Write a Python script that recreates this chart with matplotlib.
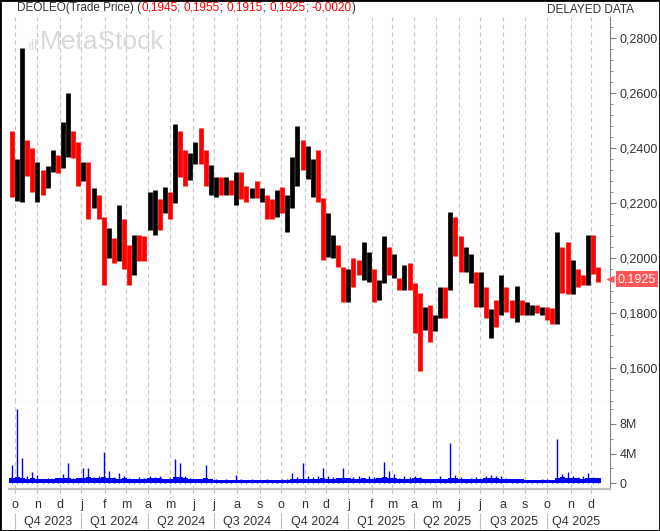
import numpy as np
import pandas as pd
import matplotlib
matplotlib.use("Agg")
import matplotlib.pyplot as plt
from matplotlib.patches import Rectangle
from matplotlib.ticker import FuncFormatter, MultipleLocator, FixedLocator

plt.rcParams["font.family"] = ["Liberation Sans", "DejaVu Sans"]

# ---- data (weekly high/low, colour = up/down week) ----
FIRST_WEEK = "2023-09-25"   # Monday of first bar
AXIS_ORIGIN = "2023-10-02"  # first month gridline
LAST_QUOTE = [0.1945, 0.1955, 0.1915, 0.1925, -0.0020]  # O, H, L, C, change

week_high = [
    0.2465, 0.2360, 0.2765, 0.2430, 0.2400, 0.2350, 0.2320, 0.2335, 0.2395, 0.2375,
    0.2495, 0.2600, 0.2465, 0.2425, 0.2350, 0.2350, 0.2255, 0.2230, 0.2150, 0.2110,
    0.2075, 0.2195, 0.2145, 0.2050, 0.2085, 0.2085, 0.2080, 0.2240, 0.2250, 0.2215,
    0.2260, 0.2240, 0.2490, 0.2465, 0.2395, 0.2385, 0.2425, 0.2475, 0.2395, 0.2340,
    0.2295, 0.2295, 0.2295, 0.2285, 0.2315, 0.2315, 0.2265, 0.2255, 0.2280, 0.2255,
    0.2230, 0.2215, 0.2250, 0.2260, 0.2230, 0.2370, 0.2480, 0.2430, 0.2410, 0.2360,
    0.2395, 0.2220, 0.2165, 0.2085, 0.2050, 0.1970, 0.1960, 0.2000, 0.1995, 0.2060,
    0.2025, 0.1960, 0.1920, 0.2080, 0.2040, 0.2015, 0.1930, 0.1975, 0.1985, 0.1910,
    0.1875, 0.1825, 0.1830, 0.1795, 0.1895, 0.1895, 0.2170, 0.2150, 0.2080, 0.2040,
    0.2015, 0.1950, 0.1950, 0.1895, 0.1815, 0.1850, 0.1940, 0.1895, 0.1850, 0.1900,
    0.1850, 0.1840, 0.1830, 0.1830, 0.1825, 0.1825, 0.1820, 0.2095, 0.2040, 0.2060,
    0.1995, 0.1960, 0.1940, 0.2085, 0.2085, 0.1970,
]
week_low = [
    0.2225, 0.2210, 0.2205, 0.2300, 0.2240, 0.2205, 0.2230, 0.2255, 0.2315, 0.2310,
    0.2330, 0.2370, 0.2365, 0.2265, 0.2280, 0.2145, 0.2185, 0.2145, 0.1905, 0.2000,
    0.1985, 0.1990, 0.1960, 0.1905, 0.1940, 0.1990, 0.1990, 0.2105, 0.2085, 0.2105,
    0.2165, 0.2145, 0.2200, 0.2295, 0.2265, 0.2285, 0.2345, 0.2345, 0.2265, 0.2230,
    0.2225, 0.2230, 0.2230, 0.2230, 0.2195, 0.2215, 0.2205, 0.2220, 0.2220, 0.2205,
    0.2145, 0.2145, 0.2150, 0.2165, 0.2095, 0.2185, 0.2265, 0.2320, 0.2290, 0.2225,
    0.2205, 0.1995, 0.2005, 0.2000, 0.1970, 0.1840, 0.1840, 0.1895, 0.1940, 0.1920,
    0.1915, 0.1840, 0.1850, 0.1910, 0.1940, 0.1930, 0.1885, 0.1885, 0.1885, 0.1730,
    0.1590, 0.1740, 0.1695, 0.1735, 0.1785, 0.1785, 0.1885, 0.2010, 0.1950, 0.1950,
    0.1910, 0.1825, 0.1825, 0.1785, 0.1710, 0.1750, 0.1795, 0.1805, 0.1785, 0.1770,
    0.1795, 0.1795, 0.1795, 0.1800, 0.1795, 0.1775, 0.1760, 0.1760, 0.1875, 0.1870,
    0.1870, 0.1895, 0.1905, 0.1905, 0.1945, 0.1915,
]
week_color = (
    "rkkrrkrkkr" "kkrrkrkrrk" "rkrrkrrkkr" "krkrrkkrrk" "krkrkrrkrk"
    "rrkrkkkrkk" "rrkkrrkrrk" "krkkrkrkrr" "rkrkkrkrrk" "krkrkrkrrk"
    "rkkrkrrkrr" "krrkrr"
)
# volume in millions: typical daily level and the peak day of each week
vol_base = [
    0.65, 0.8, 0.7, 0.6, 0.65, 0.6, 0.55, 0.6, 0.6, 0.65, 0.7,
    0.7, 0.6, 0.65, 0.7, 0.75, 0.7, 0.65, 0.8, 0.7, 0.65,
    0.6, 0.65, 0.6, 0.55, 0.6, 0.6, 0.65, 0.7, 0.65, 0.6,
    0.6, 0.8, 0.8, 0.65, 0.6, 0.6, 0.55, 0.65, 0.55, 0.45,
    0.4, 0.45, 0.4, 0.45, 0.4, 0.35, 0.4, 0.4, 0.35, 0.4,
    0.4, 0.35, 0.4, 0.45, 0.5, 0.55, 0.6, 0.55, 0.55, 0.6,
    0.65, 0.6, 0.6, 0.65, 0.7, 0.65, 0.6, 0.6, 0.65, 0.6, 0.6, 0.65, 0.8, 0.7, 0.65,
    0.55, 0.6, 0.6, 0.65, 0.65, 0.55, 0.5, 0.55, 0.6, 0.55, 0.7, 0.65, 0.6, 0.55, 0.55,
    0.6, 0.6, 0.65, 0.7, 0.65, 0.6, 0.55, 0.55, 0.5, 0.5,
    0.4, 0.4, 0.45, 0.4, 0.4, 0.45, 0.7,
    0.8, 0.7, 0.65, 0.65, 0.6, 0.7, 0.65, 0.65,
]
vol_peak = [
    2.4, 10.0, 3.4, 0.9, 1.5, 1.1, 0.6, 0.7, 0.6, 0.7,
    1.2, 2.7, 0.7, 0.6, 2.0, 2.1, 0.8, 0.9, 4.2, 1.6,
    0.8, 1.3, 0.9, 0.7, 0.6, 0.8, 0.7, 0.9, 0.8, 0.9,
    0.6, 0.7, 3.2, 2.7, 0.9, 0.7, 0.6, 0.6, 2.4, 0.6,
    0.5, 0.4, 0.5, 0.4, 1.1, 0.5, 0.4, 0.5, 0.4, 0.4,
    0.5, 0.4, 0.4, 0.5, 0.5, 1.3, 0.8, 2.7, 0.9, 0.8,
    1.0, 2.1, 0.9, 0.8, 0.7, 2.0, 0.7, 0.8, 0.9, 0.7,
    0.9, 0.8, 0.7, 2.8, 1.6, 1.2, 0.7, 0.9, 0.8, 1.0,
    0.8, 0.6, 0.5, 0.6, 0.9, 0.6, 5.4, 1.1, 0.8, 0.6,
    0.7, 0.8, 0.6, 0.9, 1.1, 1.0, 0.9, 0.7, 0.6, 0.5,
    0.5, 0.4, 0.4, 0.4, 0.5, 0.5, 0.4, 6.0, 1.2, 1.5,
    0.9, 0.8, 0.9, 1.4, 0.8, 0.7,
]
price_ticks = [0.16, 0.18, 0.20, 0.22, 0.24, 0.26, 0.28]
vol_ticks = [0, 4, 8]

# ---- positions on a trading-day axis ----
mondays = pd.date_range(FIRST_WEEK, periods=len(week_high), freq="7D")
bar_x = np.busday_count(AXIS_ORIGIN, mondays.values.astype("datetime64[D]")) + 2

month_starts = pd.date_range("2023-10-01", "2025-12-01", freq="MS")
month_bdays = np.busday_offset(month_starts.values.astype("datetime64[D]"), 0, roll="forward")
month_x = np.busday_count(AXIS_ORIGIN, month_bdays)

W, H = 660, 531
fig = plt.figure(figsize=(W / 100, H / 100), dpi=100)


def px_box(x0, y0, x1, y1):
    return [x0 / W, 1 - y1 / H, (x1 - x0) / W, (y1 - y0) / H]


ax = fig.add_axes(px_box(9, 17, 610, 402))
axv = fig.add_axes(px_box(9, 402, 610, 489), sharex=ax)
axl = fig.add_axes(px_box(9, 489, 610, 531), sharex=ax)

GRID = dict(color="#c8c8c8", lw=0.8, ls=(0, (4, 3)))
TXT = "#333333"
AXC = "#808080"
FS = 9

# price bars
colors = ["#ff0000" if c == "r" else "#000000" for c in week_color]
ax.vlines(bar_x, week_low, week_high, colors=colors, linewidth=3.4, zorder=3)
for xm in month_x:
    ax.axvline(xm, zorder=1, **GRID)
    axv.axvline(xm, zorder=1, **GRID)
axl.vlines(month_x, 0, 9, **GRID)

ax.set_xlim(-5.9, 583.6)
ax.set_ylim(0.1478, 0.2878)

# volume
axv.bar(bar_x, vol_base, width=5.0, color="#0000ff", linewidth=0, zorder=2)
axv.vlines(bar_x, 0, vol_peak, colors="#0000ff", linewidth=1.0, zorder=3)
axv.set_ylim(-0.81, 10.98)

for a in (ax, axv):
    for s in ("left", "top"):
        a.spines[s].set_visible(False)
    a.spines["right"].set_color(AXC)
    a.yaxis.tick_right()
    a.tick_params(axis="y", which="major", length=4, color=AXC, labelcolor=TXT,
                  labelsize=FS, pad=3)
    a.tick_params(axis="y", which="minor", length=2.5, color=AXC)
    a.tick_params(axis="x", which="both", bottom=False, labelbottom=False)
ax.spines["bottom"].set_color(AXC)
ax.spines["bottom"].set_linewidth(0.8)
axv.spines["bottom"].set_color("#c0c0c0")
axv.spines["bottom"].set_linewidth(1.6)

ax.yaxis.set_major_locator(FixedLocator(price_ticks))
ax.yaxis.set_minor_locator(MultipleLocator(0.004))
ax.yaxis.set_major_formatter(FuncFormatter(lambda v, p: f"{v:.4f}".replace(".", ",")))
axv.yaxis.set_major_locator(FixedLocator(vol_ticks))
axv.yaxis.set_minor_locator(MultipleLocator(2))
axv.yaxis.set_major_formatter(FuncFormatter(lambda v, p: "0" if v == 0 else f"{v:.0f}M"))

# month letters and quarter labels
axl.set_ylim(42, 0)
axl.axis("off")
for xm, d in zip(month_x, month_starts):
    axl.text(xm, 16, d.strftime("%b")[0].lower(), ha="center", va="center",
             fontsize=FS, color=TXT)
q_idx = [i for i, d in enumerate(month_starts) if d.month in (1, 4, 7, 10)]
for n, i in enumerate(q_idx):
    x0 = month_x[i]
    x1 = month_x[q_idx[n + 1]] if n + 1 < len(q_idx) else bar_x[-1] + 6
    d = month_starts[i]
    axl.vlines(x0, 24, 40, color="#c0c0c0", lw=0.8)
    axl.text((x0 + x1) / 2, 33, f"Q{(d.month - 1) // 3 + 1} {d.year}",
             ha="center", va="center", fontsize=FS, color=TXT)

# last price tag
o, h, l, c, chg = LAST_QUOTE
tag_c = "#ff5757"
ax.annotate(f"{c:.4f}".replace(".", ","), xy=(1, c), xycoords=("axes fraction", "data"),
            xytext=(5.5, 0), textcoords="offset points", ha="left", va="center",
            fontsize=FS, color="white",
            bbox=dict(boxstyle="square,pad=0.15", fc=tag_c, ec="none"),
            annotation_clip=False)
ax.plot([1.0], [c], marker="<", ms=5.5, color=tag_c, mec="none",
        transform=ax.get_yaxis_transform(), clip_on=False, zorder=5)

# header line: pieces drawn one after another
pieces = [("DEOLEO(Trade Price) (", TXT)]
for i, v in enumerate(LAST_QUOTE):
    pieces.append((f"{v:.4f}".replace(".", ","), "#ff0000"))
    pieces.append(("; " if i < len(LAST_QUOTE) - 1 else ")", TXT))
texts = [fig.text(0, 0, s, color=col, fontsize=8.5, va="center", ha="left")
         for s, col in pieces]
fig.canvas.draw()
r = fig.canvas.get_renderer()
x_px = 17
for t in texts:
    t.set_position((x_px / W, 1 - 8 / H))
    x_px += t.get_window_extent(r).width

fig.text(634 / W, 1 - 10 / H, "DELAYED DATA", fontsize=8.5, color=TXT, ha="right",
         va="center")
fig.text(40 / W, 1 - 42 / H, "MetaStock", fontsize=19, color="#d9d9d9", ha="left",
         va="center", zorder=0)
fig.text(38 / W, 1 - 46 / H, "ıll", fontsize=10, color="#d9d9d9", ha="right",
         va="center", zorder=0)

fig.patches.append(Rectangle((0, 0), 1, 1, transform=fig.transFigure, fill=False,
                             ec="black", lw=2))

fig.savefig("out.png", dpi=100)
